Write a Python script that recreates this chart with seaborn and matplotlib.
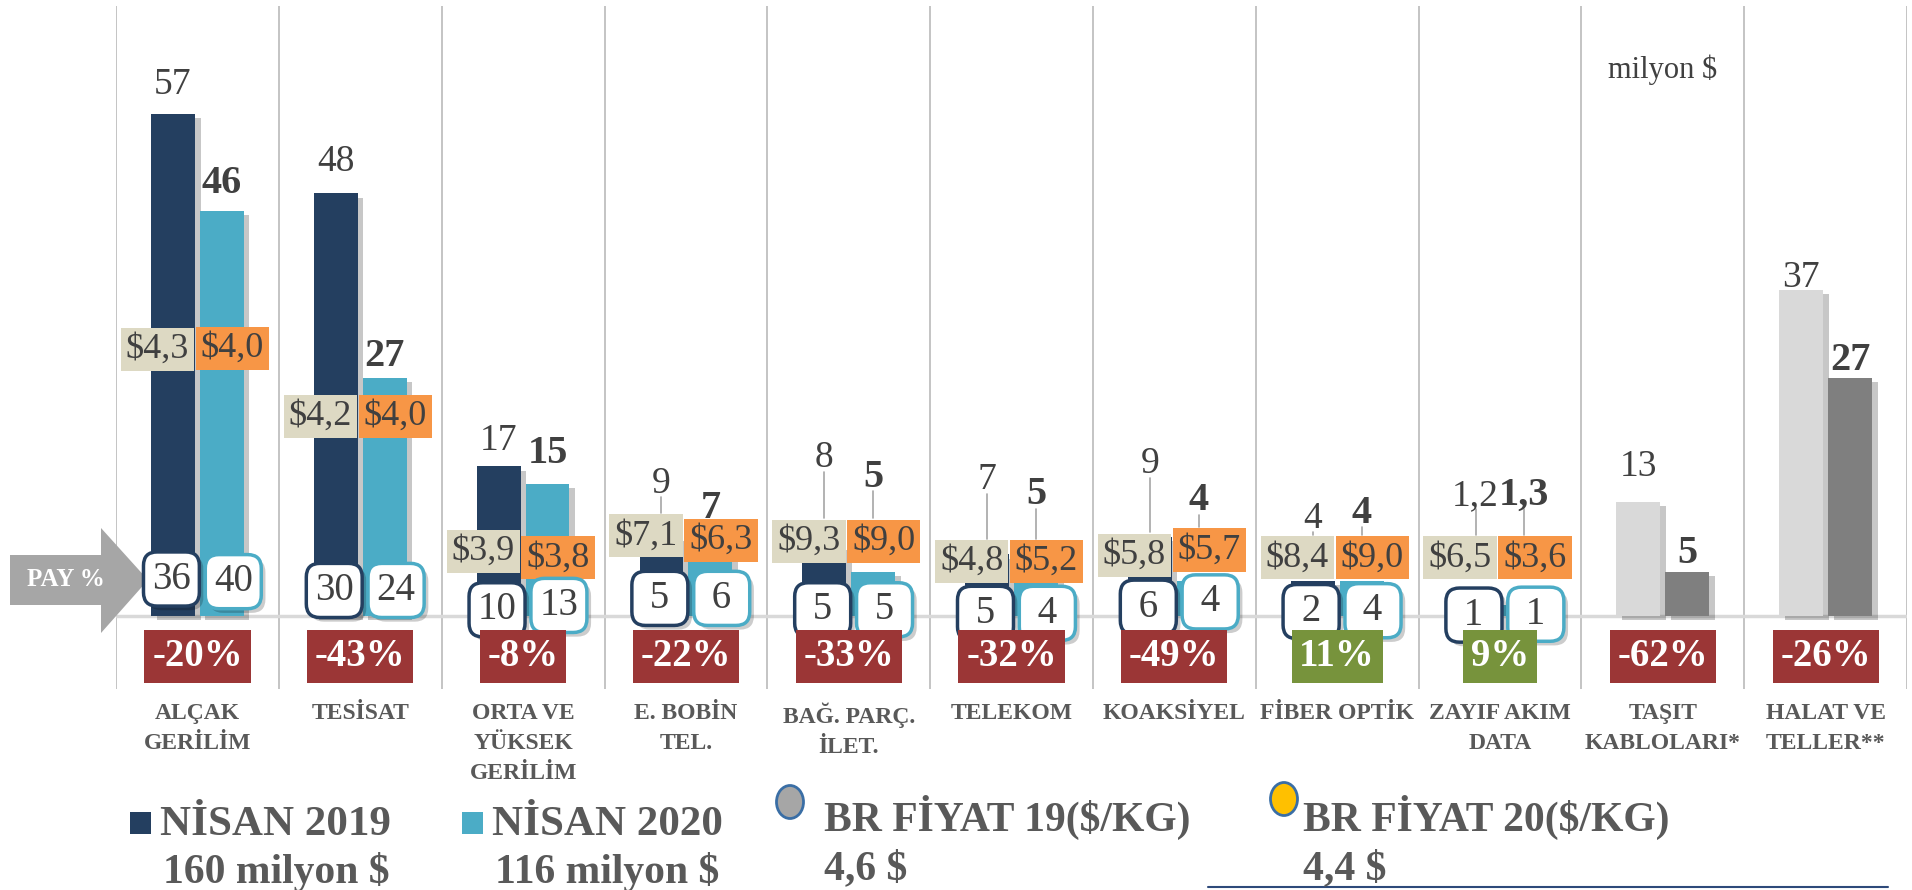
import pandas as pd
import seaborn as sns
import matplotlib.pyplot as plt
import matplotlib.patheffects as pe
from matplotlib.patches import Polygon, Rectangle, Ellipse
from matplotlib.lines import Line2D

categories = ["ALÇAK\nGERİLİM", "TESİSAT", "ORTA VE\nYÜKSEK\nGERİLİM", "E. BOBİN\nTEL.",
              "BAĞ. PARÇ.\nİLET.", "TELEKOM", "KOAKSİYEL", "FİBER OPTİK",
              "ZAYIF AKIM\nDATA", "TAŞIT\nKABLOLARI*", "HALAT VE\nTELLER**"]
sales_2019 = [57, 48, 17, 9, 8, 7, 9, 4, 1.2, 13, 37]
sales_2020 = [46, 27, 15, 7, 5, 5, 4, 4, 1.3, 5, 27]
share_2019 = [36, 30, 10, 5, 5, 5, 6, 2, 1]
share_2020 = [40, 24, 13, 6, 5, 4, 4, 4, 1]
price_2019 = [4.3, 4.2, 3.9, 7.1, 9.3, 4.8, 5.8, 8.4, 6.5]
price_2020 = [4.0, 4.0, 3.8, 6.3, 9.0, 5.2, 5.7, 9.0, 3.6]
change_pct = [-20, -43, -8, -22, -33, -32, -49, 11, 9, -62, -26]
years = ["NİSAN 2019", "NİSAN 2020"]
totals = ["160 milyon $", "116 milyon $"]
price_titles = ["BR FİYAT 19($/KG)", "BR FİYAT 20($/KG)"]
avg_price = ["4,6 $", "4,4 $"]

# where the labels sit (data units)
lab19_y = [59.3, 50.6, 18.9, 14.0, 16.9, 14.4, 16.2, 10.0, 12.6, 15.9, 37.4]
lab20_y = [48.0, 28.4, 17.4, 11.1, 14.7, 12.7, 12.0, 10.6, 12.6, 6.0, 27.9]
price19_y = [30.3, 22.7, 7.3, 9.1, 8.5, 6.2, 6.9, 6.6, 6.6]
price20_y = [30.4, 22.7, 6.6, 8.6, 8.5, 6.2, 7.5, 6.6, 6.6]
share19_y = [4.2, 2.9, 0.7, 2.0, 0.7, 0.3, 1.0, 0.5, 0.1]
share20_y = [3.9, 2.9, 1.2, 2.0, 0.7, 0.3, 1.6, 0.6, 0.2]

NAVY, TEAL = "#243F60", "#4BACC6"
GREYS = ["#D9D9D9", "#7F7F7F"]
TAN, ORANGE = "#DDD9C3", "#F79646"
RED, GREEN = "#9B3636", "#77933C"
TXT, LBL = "#404040", "#595959"

W, H = 1912, 890


def fx(px):
    return px / W


def fy(py):
    return 1 - py / H


def tr(v, digits=None):
    s = f"{v:.{digits}f}" if digits is not None else f"{v:g}"
    return s.replace(".", ",")


sns.set_theme(style="white")
plt.rcParams["font.family"] = ["Liberation Serif", "DejaVu Serif"]

df = pd.DataFrame({
    "kategori": categories * 2,
    "deger": sales_2019 + sales_2020,
    "donem": [years[0]] * len(categories) + [years[1]] * len(categories),
})

fig = plt.figure(figsize=(W / 100, H / 100), dpi=100)
ax = fig.add_axes([0.0607, 0.2258, 0.9367, 0.7675])
sns.barplot(data=df, x="kategori", y="deger", hue="donem", order=categories,
            hue_order=years, palette=[NAVY, TEAL], width=0.6, gap=0.1,
            saturation=1, errorbar=None, legend=False, linewidth=0, ax=ax, zorder=3)

shadow = [pe.SimplePatchShadow(offset=(4, -3), shadow_rgbFace="black", alpha=0.22), pe.Normal()]
for k, cont in enumerate(ax.containers):
    for i, bar in enumerate(cont):
        if i >= 9:
            bar.set_facecolor(GREYS[k])
        bar.set_path_effects(shadow)

x19 = [b.get_x() + b.get_width() / 2 for b in ax.containers[0]]
x20 = [b.get_x() + b.get_width() / 2 for b in ax.containers[1]]

ax.axhline(0, color="#D9D9D9", lw=2.5, zorder=2)

# value labels
for i in range(len(categories)):
    ax.text(x19[i], lab19_y[i], tr(sales_2019[i]), ha="center", va="baseline",
            fontsize=27, color=TXT, zorder=6)
    ax.text(x20[i], lab20_y[i], tr(sales_2020[i]), ha="center", va="baseline",
            fontsize=29, fontweight="bold", color=TXT, zorder=6)

# price boxes + leader lines
for i in range(len(price_2019)):
    ax.text(i - 0.245, price19_y[i], "$" + tr(price_2019[i], 1), ha="center", va="center",
            fontsize=26, color=TXT, zorder=7,
            bbox=dict(boxstyle="square,pad=0.14", fc=TAN, ec="none"))
    ax.text(i + 0.215, price20_y[i], "$" + tr(price_2020[i], 1), ha="center", va="center",
            fontsize=26, color=TXT, zorder=7,
            bbox=dict(boxstyle="square,pad=0.14", fc=ORANGE, ec="none"))
    for xs, ly, val, py in ((x19[i], lab19_y[i], sales_2019[i], price19_y[i]),
                            (x20[i], lab20_y[i], sales_2020[i], price20_y[i])):
        top = py + 2.6
        if ly - val > 3 and ly - 0.5 > top + 0.2:
            ax.plot([xs, xs], [ly - 0.5, top], color="#A6A6A6", lw=1.2, zorder=5)

# share (PAY %) boxes
box_shadow = [pe.SimplePatchShadow(offset=(3, -3), shadow_rgbFace="black", alpha=0.2), pe.Normal()]
for i in range(len(share_2019)):
    for xo, val, yy, ec in ((i - 0.16, share_2019[i], share19_y[i], NAVY),
                            (i + 0.22, share_2020[i], share20_y[i], TEAL)):
        s = str(val)
        if len(s) == 1:
            s = f" {s} "
        t = ax.text(xo, yy, s, ha="center", va="center", fontsize=28, color=TXT, zorder=8,
                    bbox=dict(boxstyle="round,pad=0.22,rounding_size=0.35", fc="white", ec=ec, lw=2.5))
        t.get_bbox_patch().set_path_effects(box_shadow)

# change boxes
for i, c in enumerate(change_pct):
    ax.text(i, -4.6, f"{c}%", ha="center", va="center", fontsize=28, fontweight="bold",
            color="white", zorder=9,
            bbox=dict(boxstyle="square,pad=0.2", fc=RED if c < 0 else GREEN, ec="none"))

ax.text(9, 62, "milyon $", ha="center", va="center", fontsize=22, color=TXT)

# axes cosmetics
ax.set_xlim(-0.5, len(categories) - 0.5)
ax.set_ylim(-8.3, 69.3)
ax.set_xticks(range(len(categories)))
ax.set_xticklabels(categories, fontsize=17, fontweight="bold", color=LBL, linespacing=1.55)
ax.set_xticks([i - 0.5 for i in range(len(categories) + 1)], minor=True)
ax.tick_params(axis="x", which="both", length=0, pad=10)
ax.set_yticks([])
ax.set_xlabel("")
ax.set_ylabel("")
ax.grid(False)
ax.grid(which="minor", axis="x", color="#BFBFBF", lw=1.3)
ax.set_axisbelow(True)
for sp in ax.spines.values():
    sp.set_visible(False)

# PAY % arrow
pts = [(10, 555), (101, 555), (101, 528), (148, 580), (101, 633), (101, 605), (10, 605)]
ax.add_artist(Polygon([(fx(a), fy(b)) for a, b in pts], closed=True, fc="#A6A6A6", ec="none",
                      transform=fig.transFigure, clip_on=False, zorder=4))
ax.text(fx(66), fy(580), "PAY %", transform=fig.transFigure, ha="center", va="center",
        fontsize=18, fontweight="bold", color="white", zorder=5)

# legend
for (sx, tx), col, name, tot in zip(((130, 160), (462, 492)), (NAVY, TEAL), years, totals):
    fig.add_artist(Rectangle((fx(sx), fy(834)), 21 / W, 22 / H, fc=col, ec="none",
                             transform=fig.transFigure))
    fig.text(fx(tx), fy(835), name, fontsize=31, fontweight="bold", color=LBL, va="baseline")
    fig.text(fx(tx + 3), fy(883), tot, fontsize=30, fontweight="bold", color=LBL, va="baseline")

for (cx, cy, tx), col, name, avg in zip(((790, 802, 824), (1284, 799, 1303)), ("#A6A6A6", "#FFC000"),
                                        price_titles, avg_price):
    fig.add_artist(Ellipse((fx(cx), fy(cy)), 27 / W, 33 / H, fc=col, ec="#3A6EA5", lw=2,
                           transform=fig.transFigure))
    fig.text(fx(tx), fy(831), name, fontsize=30, fontweight="bold", color=LBL, va="baseline")
    fig.text(fx(tx), fy(879), avg, fontsize=30, fontweight="bold", color=LBL, va="baseline")

fig.add_artist(Line2D([fx(1208), fx(1888)], [fy(887), fy(887)], color="#2E4A7A", lw=1.5,
                      transform=fig.transFigure))

fig.savefig("out.png", dpi=100)
